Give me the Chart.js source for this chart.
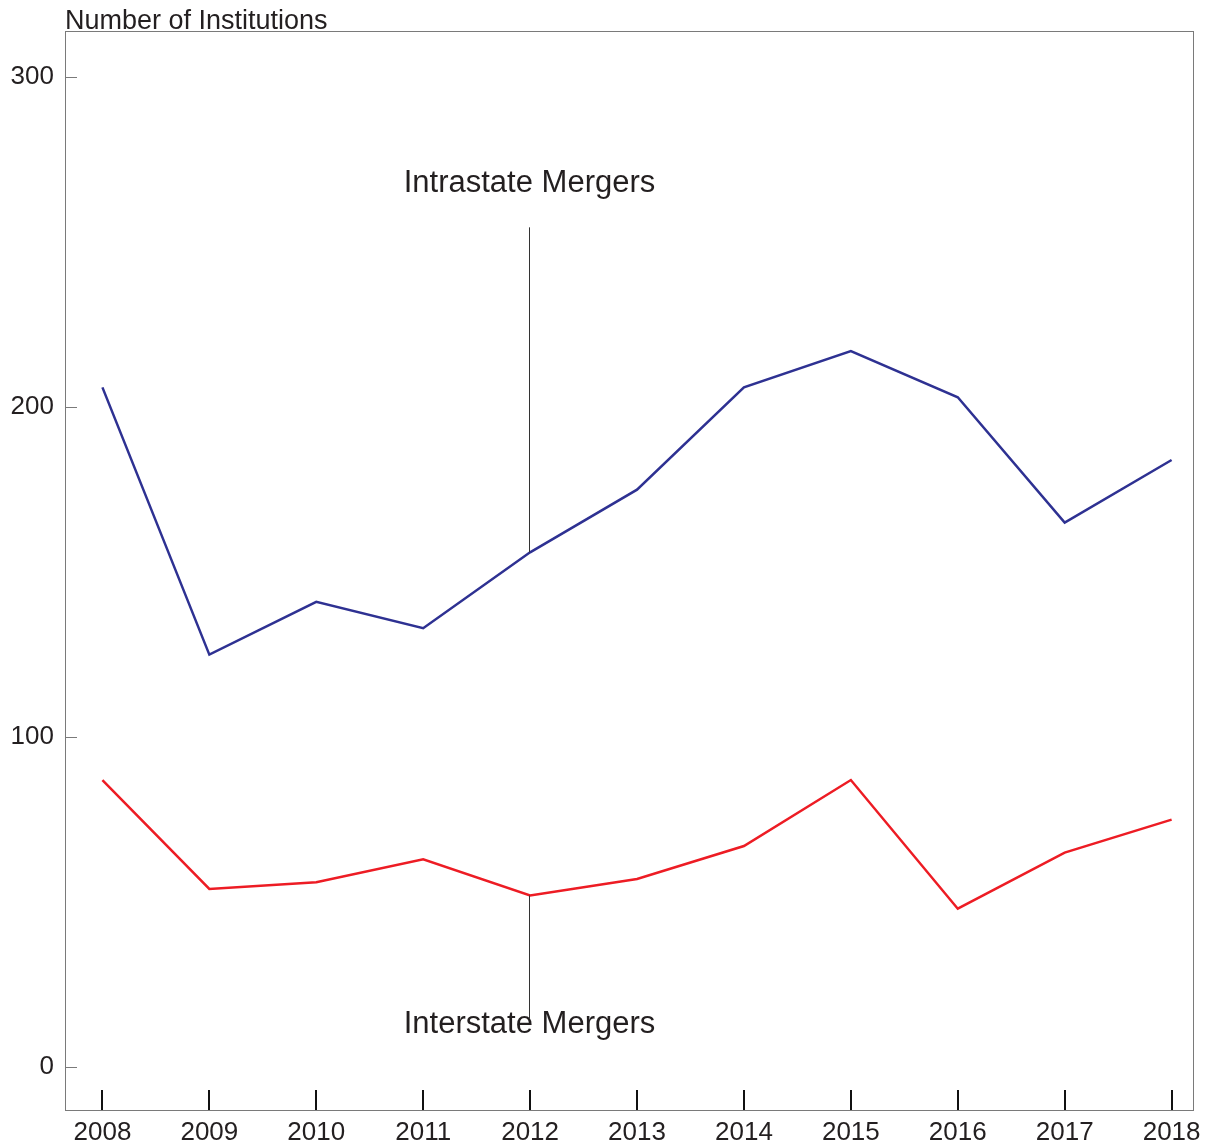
<!DOCTYPE html>
<html lang="en">
<head>
<meta charset="UTF-8">
<title>Mergers</title>
<script src="https://cdn.jsdelivr.net/npm/chart.js"></script>
<style>
  body { margin: 0; background: #fff; }
</style>
</head>
<body>
<canvas id="myChart" width="1213" height="1146"></canvas>
<script>
// data
const years = [2008, 2009, 2010, 2011, 2012, 2013, 2014, 2015, 2016, 2017, 2018];
const intrastate = [206, 125, 141, 133, 156, 175, 206, 217, 203, 165, 184];
const interstate = [87, 54, 56, 63, 52, 57, 67, 87, 48, 65, 75];
const yTicks = [0, 100, 200, 300];
const unitLabel = 'Number of Institutions';

const fontFam = '"Liberation Sans", Arial, Helvetica, sans-serif';
const textColor = '#231f20';

// frame, inner ticks, callout lines and labels
const decor = {
  id: 'decor',
  afterDraw(chart) {
    const { ctx, chartArea: a, scales: { x, y } } = chart;
    ctx.save();
    // frame
    ctx.strokeStyle = '#7a7a7a';
    ctx.lineWidth = 1;
    ctx.strokeRect(a.left + 0.5, a.top + 0.5, a.right - a.left, a.bottom - a.top);
    // y ticks (inward, short)
    yTicks.forEach(v => {
      const py = Math.round(y.getPixelForValue(v)) + 0.5;
      ctx.beginPath();
      ctx.moveTo(a.left, py);
      ctx.lineTo(a.left + 12, py);
      ctx.stroke();
    });
    // x ticks (inward from bottom)
    ctx.strokeStyle = '#111';
    ctx.lineWidth = 2;
    years.forEach(yr => {
      const px = Math.round(x.getPixelForValue(yr));
      ctx.beginPath();
      ctx.moveTo(px, a.bottom);
      ctx.lineTo(px, a.bottom - 20);
      ctx.stroke();
    });
    // callouts
    const cx = Math.round(x.getPixelForValue(2012)) - 0.5;
    ctx.strokeStyle = '#333';
    ctx.lineWidth = 1;
    ctx.beginPath();
    ctx.moveTo(cx, y.getPixelForValue(254.5));
    ctx.lineTo(cx, y.getPixelForValue(intrastate[4]));
    ctx.moveTo(cx, y.getPixelForValue(interstate[4]));
    ctx.lineTo(cx, y.getPixelForValue(14.8));
    ctx.stroke();
    ctx.fillStyle = textColor;
    ctx.font = '31px ' + fontFam;
    ctx.textAlign = 'center';
    ctx.textBaseline = 'middle';
    ctx.fillText('Intrastate Mergers', cx, y.getPixelForValue(267.8));
    ctx.fillText('Interstate Mergers', cx, y.getPixelForValue(12.8));
    // unit label
    ctx.font = '27px ' + fontFam;
    ctx.textAlign = 'left';
    ctx.textBaseline = 'alphabetic';
    ctx.fillText(unitLabel, a.left, a.top - 2);
    ctx.restore();
  }
};

new Chart(document.getElementById('myChart'), {
  type: 'line',
  data: {
    datasets: [
      {
        label: 'Intrastate Mergers',
        data: years.map((yr, i) => ({ x: yr, y: intrastate[i] })),
        borderColor: '#2e3192',
        borderWidth: 2.5,
        pointRadius: 0,
        tension: 0
      },
      {
        label: 'Interstate Mergers',
        data: years.map((yr, i) => ({ x: yr, y: interstate[i] })),
        borderColor: '#ed1c24',
        borderWidth: 2.5,
        pointRadius: 0,
        tension: 0
      }
    ]
  },
  options: {
    responsive: false,
    animation: false,
    layout: { padding: { top: 31, right: 20, left: 0, bottom: 0 } },
    plugins: { legend: { display: false }, tooltip: { enabled: false } },
    scales: {
      x: {
        type: 'linear',
        min: 2007.65,
        max: 2018.2,
        afterBuildTicks: s => { s.ticks = years.map(v => ({ value: v })); },
        afterFit: s => { s.height = 36; },
        grid: { display: false, drawTicks: false },
        border: { display: false },
        ticks: {
          padding: 7,
          color: textColor,
          font: { family: fontFam, size: 26 },
          maxRotation: 0,
          callback: v => String(v)
        }
      },
      y: {
        min: -13,
        max: 314,
        afterBuildTicks: s => { s.ticks = yTicks.map(v => ({ value: v })); },
        afterFit: s => { s.width = 65; },
        grid: { display: false, drawTicks: false },
        border: { display: false },
        ticks: {
          padding: 11,
          color: textColor,
          font: { family: fontFam, size: 26 }
        }
      }
    }
  },
  plugins: [decor]
});
</script>
</body>
</html>
